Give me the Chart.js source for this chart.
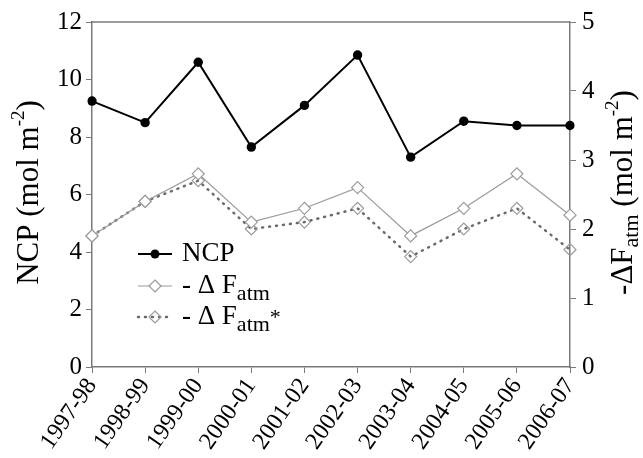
<!DOCTYPE html>
<html>
<head>
<meta charset="utf-8">
<script src="https://cdn.jsdelivr.net/npm/chart.js@4.4.0/dist/chart.umd.min.js"></script>
<style>
  body { margin: 0; background: #fff; }
  #wrap { width: 643px; height: 458px; }
</style>
</head>
<body>
<div id="wrap"><canvas id="myChart" width="643" height="458"></canvas></div>
<script>
// datos
let years = ["1997-98", "1998-99", "1999-00", "2000-01", "2001-02", "2002-03", "2003-04", "2004-05", "2005-06", "2006-07"];
let ncp = [9.25, 8.5, 10.6, 7.65, 9.1, 10.85, 7.3, 8.55, 8.4, 8.4];
let dFatm = [1.9, 2.4, 2.8, 2.1, 2.3, 2.6, 1.9, 2.3, 2.8, 2.2];
let dFatmStar = [1.9, 2.4, 2.7, 2.0, 2.1, 2.3, 1.6, 2.0, 2.3, 1.7];
let leftTicks = [0, 2, 4, 6, 8, 10, 12];
let rightTicks = [0, 1, 2, 3, 4, 5];

let serif = "'Liberation Serif', 'Times New Roman', serif";
let axisGray = "#7a7a7a";

// escribe texto con sub/superindices, centrado en x
function drawRich(ctx, parts, x, y) {
    let total = 0;
    parts.forEach(p => {
        ctx.font = p.size + "px " + serif;
        p.w = ctx.measureText(p.t).width;
        total += p.w;
    });
    let cx = x - total / 2;
    parts.forEach(p => {
        ctx.font = p.size + "px " + serif;
        ctx.fillText(p.t, cx, y + (p.dy || 0));
        cx += p.w;
    });
}

let extras = {
    id: "extras",
    afterDraw(chart) {
        let ctx = chart.ctx;
        let area = chart.chartArea;
        ctx.save();

        // borde de arriba
        ctx.strokeStyle = axisGray;
        ctx.lineWidth = 1.5;
        ctx.beginPath();
        ctx.moveTo(area.left, area.top);
        ctx.lineTo(area.right, area.top);
        ctx.stroke();

        ctx.fillStyle = "#000";
        ctx.textBaseline = "middle";
        let midY = (area.top + area.bottom) / 2;

        // titulo izquierdo
        ctx.save();
        ctx.translate(30, midY - 2);
        ctx.rotate(-Math.PI / 2);
        drawRich(ctx, [
            { t: "NCP (mol m", size: 31 },
            { t: "-2", size: 19, dy: -11 },
            { t: ")", size: 31 }
        ], 0, 0);
        ctx.restore();

        // titulo derecho
        ctx.save();
        ctx.translate(624, midY - 2);
        ctx.rotate(-Math.PI / 2);
        drawRich(ctx, [
            { t: "-ΔF", size: 31 },
            { t: "atm", size: 22, dy: 8 },
            { t: " (mol m", size: 31 },
            { t: "-2", size: 19, dy: -11 },
            { t: ")", size: 31 }
        ], 0, 0);
        ctx.restore();

        // leyenda
        let rows = [
            { y: 254, color: "#000", dash: [], width: 2, circle: true, parts: [{ t: "NCP", size: 27 }] },
            { y: 286, color: "#9a9a9a", dash: [], width: 1.2, circle: false,
              parts: [{ t: "- Δ F", size: 27 }, { t: "atm", size: 22, dy: 8 }] },
            { y: 317, color: "#6a6a6a", dash: [1, 6], width: 2.5, circle: false,
              parts: [{ t: "- Δ F", size: 27 }, { t: "atm", size: 22, dy: 8 }, { t: "*", size: 22, dy: 1 }] }
        ];
        rows.forEach(r => {
            ctx.strokeStyle = r.color;
            ctx.lineWidth = r.width;
            ctx.lineCap = r.dash.length ? "round" : "butt";
            ctx.setLineDash(r.dash);
            ctx.beginPath();
            ctx.moveTo(138, r.y);
            ctx.lineTo(172, r.y);
            ctx.stroke();
            ctx.setLineDash([]);
            if (r.circle) {
                ctx.fillStyle = "#000";
                ctx.beginPath();
                ctx.arc(155, r.y, 4.5, 0, Math.PI * 2);
                ctx.fill();
            } else {
                ctx.fillStyle = r.dash.length ? "rgba(255,255,255,0)" : "#fff";
                ctx.strokeStyle = "#9a9a9a";
                ctx.lineWidth = 1.2;
                ctx.beginPath();
                ctx.moveTo(155, r.y - 6);
                ctx.lineTo(161, r.y);
                ctx.lineTo(155, r.y + 6);
                ctx.lineTo(149, r.y);
                ctx.closePath();
                ctx.fill();
                ctx.stroke();
            }
            ctx.fillStyle = "#000";
            ctx.textAlign = "left";
            let x = 182;
            r.parts.forEach(p => {
                ctx.font = p.size + "px " + serif;
                ctx.fillText(p.t, x, r.y + (p.dy || 0));
                x += ctx.measureText(p.t).width;
            });
        });
        ctx.restore();
    }
};

let ctx = document.getElementById("myChart").getContext("2d");
let chart = new Chart(ctx, {
    type: "line",
    data: {
        labels: years,
        datasets: [
            {
                label: "NCP",
                data: ncp,
                yAxisID: "y",
                borderColor: "#000",
                backgroundColor: "#000",
                borderWidth: 2,
                pointStyle: "circle",
                pointRadius: 4.7,
                pointBorderWidth: 0,
                tension: 0
            },
            {
                label: "- Δ Fatm",
                data: dFatm,
                yAxisID: "y1",
                borderColor: "#9a9a9a",
                backgroundColor: "#fff",
                pointBorderColor: "#9a9a9a",
                borderWidth: 1.2,
                pointStyle: "rectRot",
                pointRadius: 6,
                pointBorderWidth: 1.2,
                tension: 0
            },
            {
                label: "- Δ Fatm*",
                data: dFatmStar,
                yAxisID: "y1",
                borderColor: "#6a6a6a",
                backgroundColor: "rgba(255,255,255,0)",
                pointBorderColor: "#9a9a9a",
                borderWidth: 2.5,
                borderDash: [1, 6],
                borderCapStyle: "round",
                pointStyle: "rectRot",
                pointRadius: 6,
                pointBorderWidth: 1.2,
                tension: 0
            }
        ]
    },
    options: {
        responsive: false,
        animation: false,
        layout: { padding: { top: 22, left: 0, right: 0, bottom: 0 } },
        plugins: {
            legend: { display: false },
            tooltip: { enabled: false }
        },
        scales: {
            x: {
                offset: false,
                grid: { drawOnChartArea: false, drawTicks: true, tickLength: 6, color: axisGray },
                border: { color: axisGray, width: 1.5 },
                ticks: {
                    color: "#000",
                    font: { family: serif, size: 24 },
                    minRotation: 55,
                    maxRotation: 55,
                    autoSkip: false,
                    padding: 0
                },
                afterFit: scale => { scale.height = 91; }
            },
            y: {
                position: "left",
                min: 0,
                max: 12,
                afterBuildTicks: scale => { scale.ticks = leftTicks.map(v => ({ value: v })); },
                grid: { drawOnChartArea: false, tickLength: 6, color: axisGray },
                border: { color: axisGray, width: 1.5 },
                ticks: { color: "#000", font: { family: serif, size: 25 }, padding: 4 },
                afterFit: scale => { scale.width = 92; }
            },
            y1: {
                position: "right",
                min: 0,
                max: 5,
                afterBuildTicks: scale => { scale.ticks = rightTicks.map(v => ({ value: v })); },
                grid: { drawOnChartArea: false, tickLength: 6, color: axisGray },
                border: { color: axisGray, width: 1.5 },
                ticks: { color: "#000", font: { family: serif, size: 25 }, padding: 6 },
                afterFit: scale => { scale.width = 73; }
            }
        }
    },
    plugins: [extras]
});
</script>
</body>
</html>
